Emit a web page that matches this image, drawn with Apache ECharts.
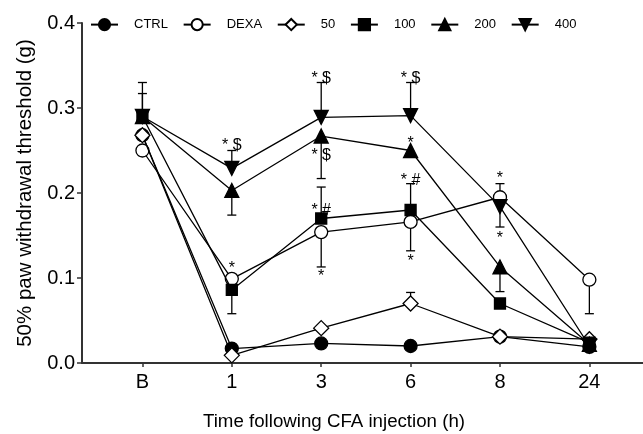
<!DOCTYPE html>
<html><head><meta charset="utf-8">
<script src="https://cdn.jsdelivr.net/npm/echarts@6/dist/echarts.min.js"></script>
<style>html,body{margin:0;padding:0;background:#fff}#c{width:643px;height:434px}</style>
</head><body><div id="c"></div>
<script>
const categories = ['B', '1', '3', '6', '8', '24'];
const seriesNames = ['CTRL', 'DEXA', '50', '100', '200', '400'];
const ctrl = [0.268, 0.017, 0.023, 0.020, 0.031, 0.019];
const dexa = [0.250, 0.099, 0.154, 0.166, 0.195, 0.098];
const d50  = [0.268, 0.009, 0.041, 0.070, 0.031, 0.028];
const d100 = [0.290, 0.086, 0.170, 0.180, 0.070, 0.024];
const d200 = [0.290, 0.203, 0.267, 0.250, 0.113, 0.022];
const d400 = [0.290, 0.229, 0.289, 0.291, 0.184, 0.020];
// one-sided error bar ends (null = hidden behind marker)
const errCtrl = [null, null, null, null, null, null];
const errDexa = [0.244, 0.094, 0.113, 0.132, 0.211, 0.058];
const err50   = [null, null, null, 0.083, null, null];
const err100  = [null, 0.058, 0.207, 0.211, null, null];
const err200  = [0.317, 0.174, 0.217, null, 0.084, null];
const err400  = [0.330, 0.250, 0.330, 0.330, 0.160, null];
const yTicks = [0, 0.1, 0.2, 0.3, 0.4];
// significance annotations: [category index, y value, text]
const annotations = [
  [1, 0.259, '* $'], [1, 0.115, '*'],
  [2, 0.338, '* $'], [2, 0.248, '* $'], [2, 0.183, '* #'], [2, 0.105, '*'],
  [3, 0.338, '* $'], [3, 0.262, '*'], [3, 0.218, '* #'], [3, 0.123, '*'],
  [4, 0.221, '*'], [4, 0.150, '*']
];

const FONT = '"Liberation Sans", Arial, Helvetica, sans-serif';
const values = [ctrl, dexa, d50, d100, d200, d400];
const errs = [errCtrl, errDexa, err50, err100, err200, err400];
const symbols = [
  {symbol: 'circle', size: 13, fill: '#000', rot: 0},
  {symbol: 'circle', size: 13, fill: '#fff', rot: 0},
  {symbol: 'diamond', size: 15, fill: '#fff', rot: 0},
  {symbol: 'rect', size: 11, fill: '#000', rot: 0},
  {symbol: 'triangle', size: 14, fill: '#000', rot: 0},
  {symbol: 'triangle', size: 14, fill: '#000', rot: 180}
];

const errData = [];
errs.forEach((arr, s) => arr.forEach((e, i) => { if (e !== null) errData.push([i, values[s][i], e]); }));

const series = [];
series.push({
  type: 'custom', name: 'err', silent: true, z: 1,
  data: errData,
  renderItem: function (params, api) {
    const p0 = api.coord([api.value(0), api.value(1)]);
    const p1 = api.coord([api.value(0), api.value(2)]);
    const w = 4.5;
    return {type: 'group', children: [
      {type: 'line', shape: {x1: p0[0], y1: p0[1], x2: p1[0], y2: p1[1]}, style: {stroke: '#000', lineWidth: 1.3}},
      {type: 'line', shape: {x1: p1[0] - w, y1: p1[1], x2: p1[0] + w, y2: p1[1]}, style: {stroke: '#000', lineWidth: 1.3}}
    ]};
  }
});
seriesNames.forEach((n, s) => {
  series.push({
    type: 'line', name: n, z: 3 + s,
    data: values[s].map((v, i) => [i, v]),
    symbol: symbols[s].symbol, symbolSize: symbols[s].size, symbolRotate: symbols[s].rot,
    showAllSymbol: true,
    lineStyle: {color: '#000', width: 1.3},
    itemStyle: {color: symbols[s].fill, borderColor: '#000', borderWidth: 1.3, opacity: 1},
    emphasis: {disabled: true}
  });
});
series.push({
  type: 'custom', name: 'ann', silent: true, z: 20,
  data: annotations,
  renderItem: function (params, api) {
    const p = api.coord([api.value(0), api.value(1)]);
    return {type: 'text', x: p[0], y: p[1] + 3,
      style: {text: annotations[params.dataIndex][2], fontSize: 16, fontFamily: FONT, fill: '#000', align: 'center', verticalAlign: 'middle'}};
  }
});

const chart = echarts.init(document.getElementById('c'), null, {renderer: 'canvas'});
chart.setOption({
  animation: false,
  backgroundColor: '#fff',
  textStyle: {fontFamily: FONT, color: '#000'},
  legend: {
    data: seriesNames, left: 85, top: 13, itemWidth: 27, itemHeight: 14, itemGap: 14.7,
    textStyle: {fontSize: 13, fontFamily: FONT, color: '#000', padding: [0, 0, 0, 11]},
    selectedMode: false
  },
  grid: {left: 82, right: 0, top: 23, bottom: 71, containLabel: false, outerBoundsMode: 'none'},
  xAxis: {
    type: 'value', min: -0.676, max: 5.6,
    name: 'Time following CFA injection (h)', nameLocation: 'middle', nameGap: 49,
    nameTextStyle: {fontSize: 18.7, fontFamily: FONT, color: '#000', padding: [0, 57, 0, 0]},
    splitLine: {show: false},
    axisLine: {show: true, onZero: false, lineStyle: {color: '#333', width: 2}},
    axisTick: {show: true, customValues: [0, 1, 2, 3, 4, 5], length: 4, lineStyle: {color: '#333', width: 1.5}},
    axisLabel: {customValues: [0, 1, 2, 3, 4, 5], formatter: v => categories[Math.round(v)], fontSize: 20, color: '#000', margin: 9, fontFamily: FONT}
  },
  yAxis: {
    type: 'value', min: yTicks[0], max: yTicks[yTicks.length - 1], interval: 0.1,
    name: '50% paw withdrawal threshold (g)', nameLocation: 'middle', nameGap: 46,
    nameTextStyle: {fontSize: 20.5, fontFamily: FONT, color: '#000'},
    splitLine: {show: false},
    axisLine: {show: true, onZero: false, lineStyle: {color: '#333', width: 2}},
    axisTick: {show: true, length: 5, lineStyle: {color: '#333', width: 1.5}},
    axisLabel: {formatter: v => v.toFixed(1), fontSize: 20, color: '#000', margin: 7, fontFamily: FONT}
  },
  series: series
});
</script></body></html>
